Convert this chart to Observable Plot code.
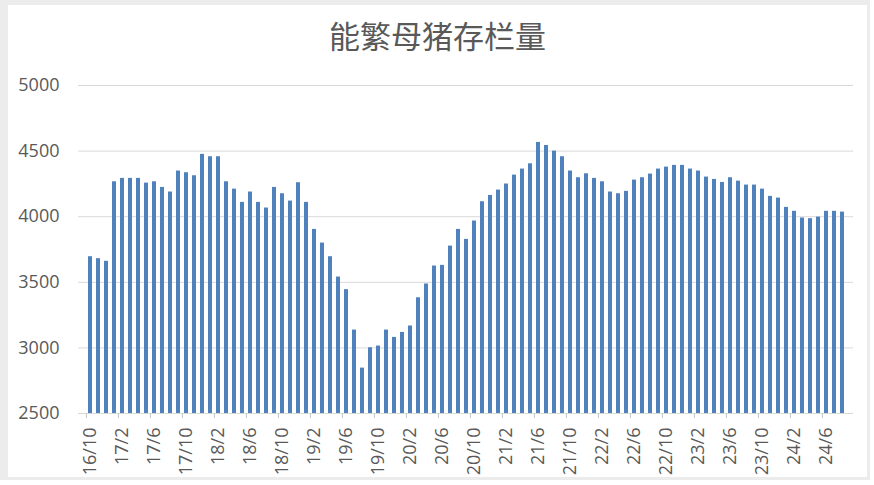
<!DOCTYPE html>
<html>
<head>
<meta charset="utf-8">
<script src="https://cdn.jsdelivr.net/npm/d3@7"></script>
<script src="https://cdn.jsdelivr.net/npm/@observablehq/plot@0.6"></script>
<style>
  html, body { margin: 0; padding: 0; background: #ffffff; }
  #frame {
    position: absolute; left: 0; top: 0;
    width: 859px; height: 472px;
    border-style: solid; border-color: #ececec;
    border-width: 5px 3px 3px 8px;
    background: #ffffff;
  }
  #title {
    position: absolute; left: 0; top: 14px; width: 859px;
    text-align: center;
    font-family: "Noto Sans CJK SC", sans-serif;
    font-weight: 400;
    font-size: 31px; line-height: 31px;
    color: #595959;
  }
  #chart { position: absolute; left: 0; top: 55px; }
</style>
</head>
<body>
<div id="frame">
  <div id="title">能繁母猪存栏量</div>
  <div id="chart"></div>
</div>
<script>
const months = [
  "16/10","16/11","16/12",
  "17/1","17/2","17/3","17/4","17/5","17/6","17/7","17/8","17/9","17/10","17/11","17/12",
  "18/1","18/2","18/3","18/4","18/5","18/6","18/7","18/8","18/9","18/10","18/11","18/12",
  "19/1","19/2","19/3","19/4","19/5","19/6","19/7","19/8","19/9","19/10","19/11","19/12",
  "20/1","20/2","20/3","20/4","20/5","20/6","20/7","20/8","20/9","20/10","20/11","20/12",
  "21/1","21/2","21/3","21/4","21/5","21/6","21/7","21/8","21/9","21/10","21/11","21/12",
  "22/1","22/2","22/3","22/4","22/5","22/6","22/7","22/8","22/9","22/10","22/11","22/12",
  "23/1","23/2","23/3","23/4","23/5","23/6","23/7","23/8","23/9","23/10","23/11","23/12",
  "24/1","24/2","24/3","24/4","24/5","24/6","24/7","24/8"
];
const sowStock = [
  3695,3680,3660,
  4266,4292,4292,4292,4256,4266,4223,4188,4348,4335,4312,4475,
  4457,4457,4266,4210,4109,4188,4109,4066,4223,4175,4119,4259,
  4109,3903,3799,3695,3540,3444,3136,2846,3001,3014,3136,3080,
  3118,3167,3382,3487,3624,3629,3776,3903,3827,3967,4114,4162,
  4203,4249,4317,4363,4403,4566,4543,4500,4457,4348,4297,4327,
  4292,4266,4188,4175,4193,4279,4297,4325,4363,4378,4391,4391,
  4363,4348,4302,4284,4261,4297,4271,4241,4241,4210,4155,4142,
  4071,4041,3990,3985,3997,4041,4041,4035
];
const xTickLabels = ["16/10","17/2","17/6","17/10","18/2","18/6","18/10","19/2","19/6","19/10","20/2","20/6","20/10","21/2","21/6","21/10","22/2","22/6","22/10","23/2","23/6","23/10","24/2","24/6"];
const yTicks = [2500, 3000, 3500, 4000, 4500, 5000];
const yBase = 2500;

const data = months.map((m, i) => ({month: m, value: sowStock[i]}));

const W = 858, H = 416, mL = 70, mR = 13;
const step = (W - mL - mR) / months.length;

const chart = Plot.plot({
  width: W, height: H,
  marginLeft: mL, marginRight: mR, marginTop: 25, marginBottom: 63,
  style: {fontFamily: "'Open Sans', 'Noto Sans', sans-serif", fontSize: "18px", color: "#595959", background: "transparent", overflow: "visible"},
  x: {domain: months, paddingInner: 0.55, paddingOuter: 0.275, label: null},
  y: {domain: [2500, 5000], label: null},
  marks: [
    Plot.ruleY(yTicks, {stroke: "#d9d9d9", strokeWidth: 1}),
    Plot.barY(data, {x: "month", y1: yBase, y2: "value", fill: "#4f81bd"}),
    Plot.axisY({ticks: yTicks, tickSize: 0, tickPadding: 19, tickFormat: d3.format("d"), label: null, fill: "#595959", fontSize: 18}),
    Plot.axisX({ticks: xTickLabels, tickSize: 0, tickPadding: 14, tickRotate: -90, label: null, fill: "#595959", fontSize: 18}),
    Plot.axisX({ticks: xTickLabels, tickSize: 5, tickFormat: () => "", dx: -step / 2, stroke: "#c8c8c8", label: null})
  ]
});
document.getElementById("chart").appendChild(chart);
</script>
</body>
</html>
